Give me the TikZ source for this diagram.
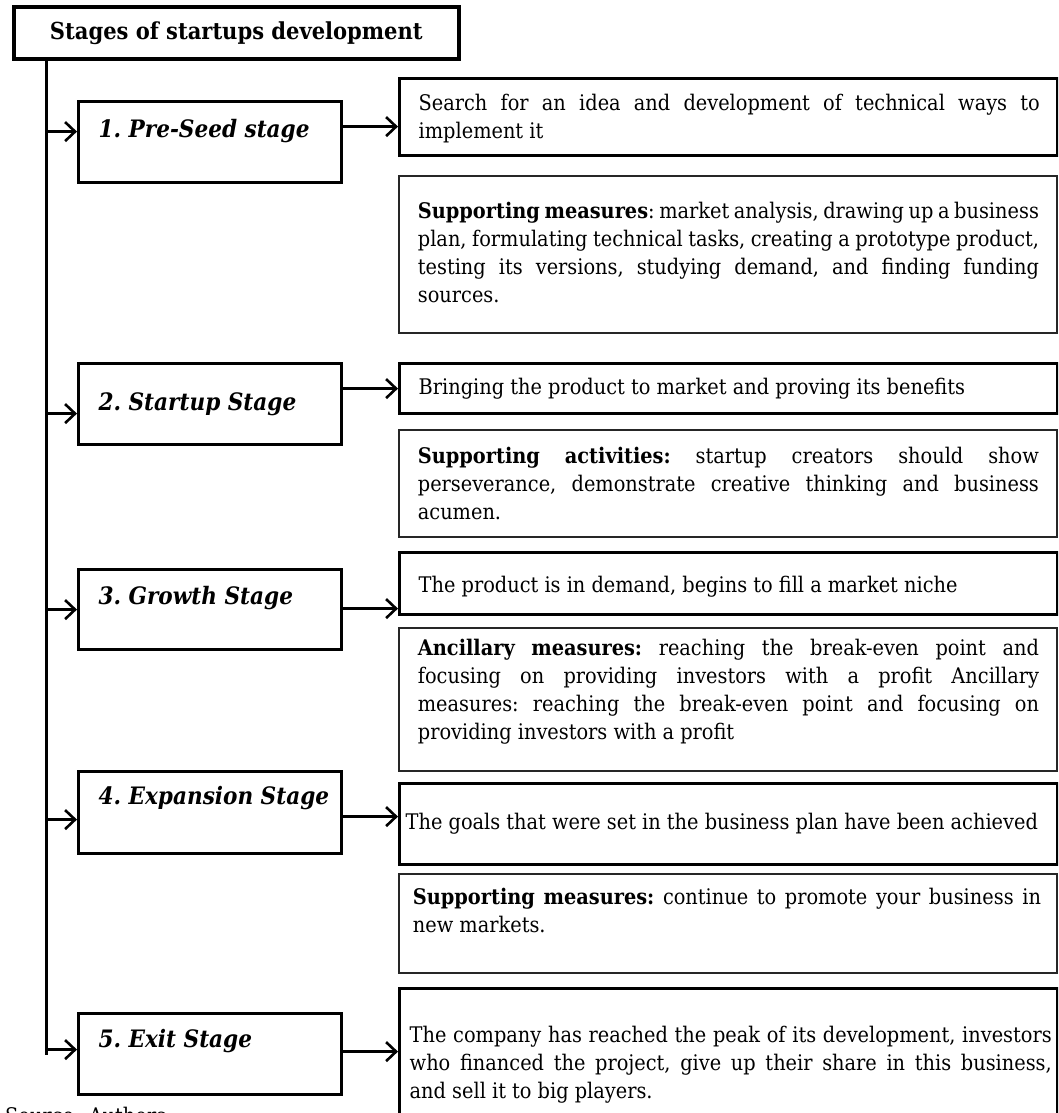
\documentclass[tikz,border=0pt]{standalone}
\usepackage{fontspec}
\setmainfont{DejaVu Serif Condensed}
\usetikzlibrary{arrows.meta}
\newdimen\padL \newdimen\padR
\newcommand\JL[1]{\hbox to\linewidth{\spaceskip=0.25em plus 1fil minus 0.12em\relax\hskip\padL\relax\strut#1\hskip\padR\relax}}
\newcommand\LL[1]{\hbox to\linewidth{\hskip\padL\relax\strut#1\hfil}}
\newcommand\bxc[6]{\parbox[c][#2pt][t]{#1pt}{\frenchspacing\padL=#4pt\relax\padR=#5pt\relax\vspace*{#3pt}#6}}
\newcommand\bodyf{\fontsize{21.5}{28}\selectfont}
\newcommand\stagef{\fontsize{24}{28}\selectfont\bfseries\itshape}
\tikzset{
  rbox/.style={draw, line width=3.4pt, inner sep=0pt, anchor=north west, font=\bodyf},
  pbox/.style={draw, black!85, text=black, line width=1.8pt, inner sep=0pt, anchor=north west, font=\bodyf},
  sbox/.style={draw, line width=3.2pt, inner sep=0pt, anchor=north west, font=\stagef},
  tbox/.style={draw, line width=3.6pt, inner sep=0pt, anchor=north west, font=\fontsize{23.4}{26}\selectfont\bfseries},
  arr/.style={line width=2.6pt, -{Straight Barb[length=10pt,width=19pt]}},
  vline/.style={line width=3pt},
}
\begin{document}
\begin{tikzpicture}[x=1pt,y=-1pt]
\useasboundingbox (0,0) rectangle (1058,1113);
\clip (0,0) rectangle (1058,1113);
% title
\node[tbox, minimum width=445pt, minimum height=52pt] (title) at (12,5) {Stages of startups development};
% stage boxes
\node[sbox] (s1) at (77,100) {\bxc{263}{81}{16.6}{20}{0}{\LL{1. Pre-Seed stage}}};
\node[sbox] (s2) at (77,362) {\bxc{263}{81}{27.6}{20}{0}{\LL{2. Startup Stage}}};
\node[sbox] (s3) at (77,568) {\bxc{263}{80}{15.6}{20}{0}{\LL{3. Growth Stage}}};
\node[sbox] (s4) at (77,770) {\bxc{263}{82}{13.6}{20}{0}{\LL{4. Expansion Stage}}};
\node[sbox] (s5) at (77,1012) {\bxc{263}{81}{14.6}{20}{0}{\LL{5. Exit Stage}}};
% right column
\node[rbox] (r1) at (398,77) {\bxc{658}{77}{11.8}{19}{18}{%
  \JL{Search for an idea and development of technical ways to}%
  \LL{implement it}}};
\node[pbox] (p1) at (398,175) {\bxc{658}{157}{22.8}{19}{18}{%
  \JL{\textbf{Supporting measures}: market analysis, drawing up a business}%
  \JL{plan, formulating technical tasks, creating a prototype product,}%
  \JL{testing its versions, studying demand, and finding funding}%
  \LL{sources.}}};
\node[rbox] (r2) at (398,362) {\bxc{658}{50}{10.8}{19}{18}{%
  \LL{Bringing the product to market and proving its benefits}}};
\node[pbox] (p2) at (398,429) {\bxc{658}{107}{13.8}{19}{18}{%
  \JL{\textbf{Supporting activities:} startup creators should show}%
  \JL{perseverance, demonstrate creative thinking and business}%
  \LL{acumen.}}};
\node[rbox] (r3) at (398,551) {\bxc{658}{62}{19.8}{19}{18}{%
  \LL{The product is in demand, begins to fill a market niche}}};
\node[pbox] (p3) at (398,627) {\bxc{658}{143}{8}{19}{18}{%
  \JL{\textbf{Ancillary measures:} reaching the break-even point and}%
  \JL{focusing on providing investors with a profit Ancillary}%
  \JL{measures: reaching the break-even point and focusing on}%
  \LL{providing investors with a profit}}};
\node[rbox] (r4) at (398,782) {\bxc{658}{81}{25.8}{6}{10}{%
  \LL{The goals that were set in the business plan have been achieved}}};
\node[pbox] (p4) at (398,873) {\bxc{658}{99}{10.8}{14}{16}{%
  \JL{\textbf{Supporting measures:} continue to promote your business in}%
  \LL{new markets.}}};
\node[rbox] (r5) at (398,987) {\bxc{658}{140}{33.8}{10}{6}{%
  \JL{The company has reached the peak of its development, investors}%
  \JL{who financed the project, give up their share in this business,}%
  \LL{and sell it to big players.}}};
% source line (cut by the page edge, as in the reference)
\node[anchor=base west, inner sep=0pt, font=\bodyf] (src) at (5,1123) {Source: Authors};
% vertical spine
\coordinate (vb) at (46,1055);
\draw[vline] (title.south -| vb) -- (vb);
% arrows from spine to stages
\draw[arr] ([yshift=10.5pt]s1.west -| vb) -- ([yshift=10.5pt]s1.west);
\draw[arr] ([yshift=-9.5pt]s2.west -| vb) -- ([yshift=-9.5pt]s2.west);
\draw[arr] (s3.west -| vb) -- (s3.west);
\draw[arr] ([yshift=-7pt]s4.west -| vb) -- ([yshift=-7pt]s4.west);
\draw[arr] ([yshift=4.5pt]s5.west -| vb) -- ([yshift=4.5pt]s5.west);
% arrows from stages to descriptions
\draw[arr] ([yshift=15.5pt]s1.east) -- ([yshift=15.5pt]s1.east -| r1.west);
\draw[arr] ([yshift=15.5pt]s2.east) -- ([yshift=15.5pt]s2.east -| r2.west);
\draw[arr] ([yshift=1pt]s3.east) -- ([yshift=1pt]s3.east -| r3.west);
\draw[arr] ([yshift=-4pt]s4.east) -- ([yshift=-4pt]s4.east -| r4.west);
\draw[arr] ([yshift=2.5pt]s5.east) -- ([yshift=2.5pt]s5.east -| r5.west);
\end{tikzpicture}
\end{document}
